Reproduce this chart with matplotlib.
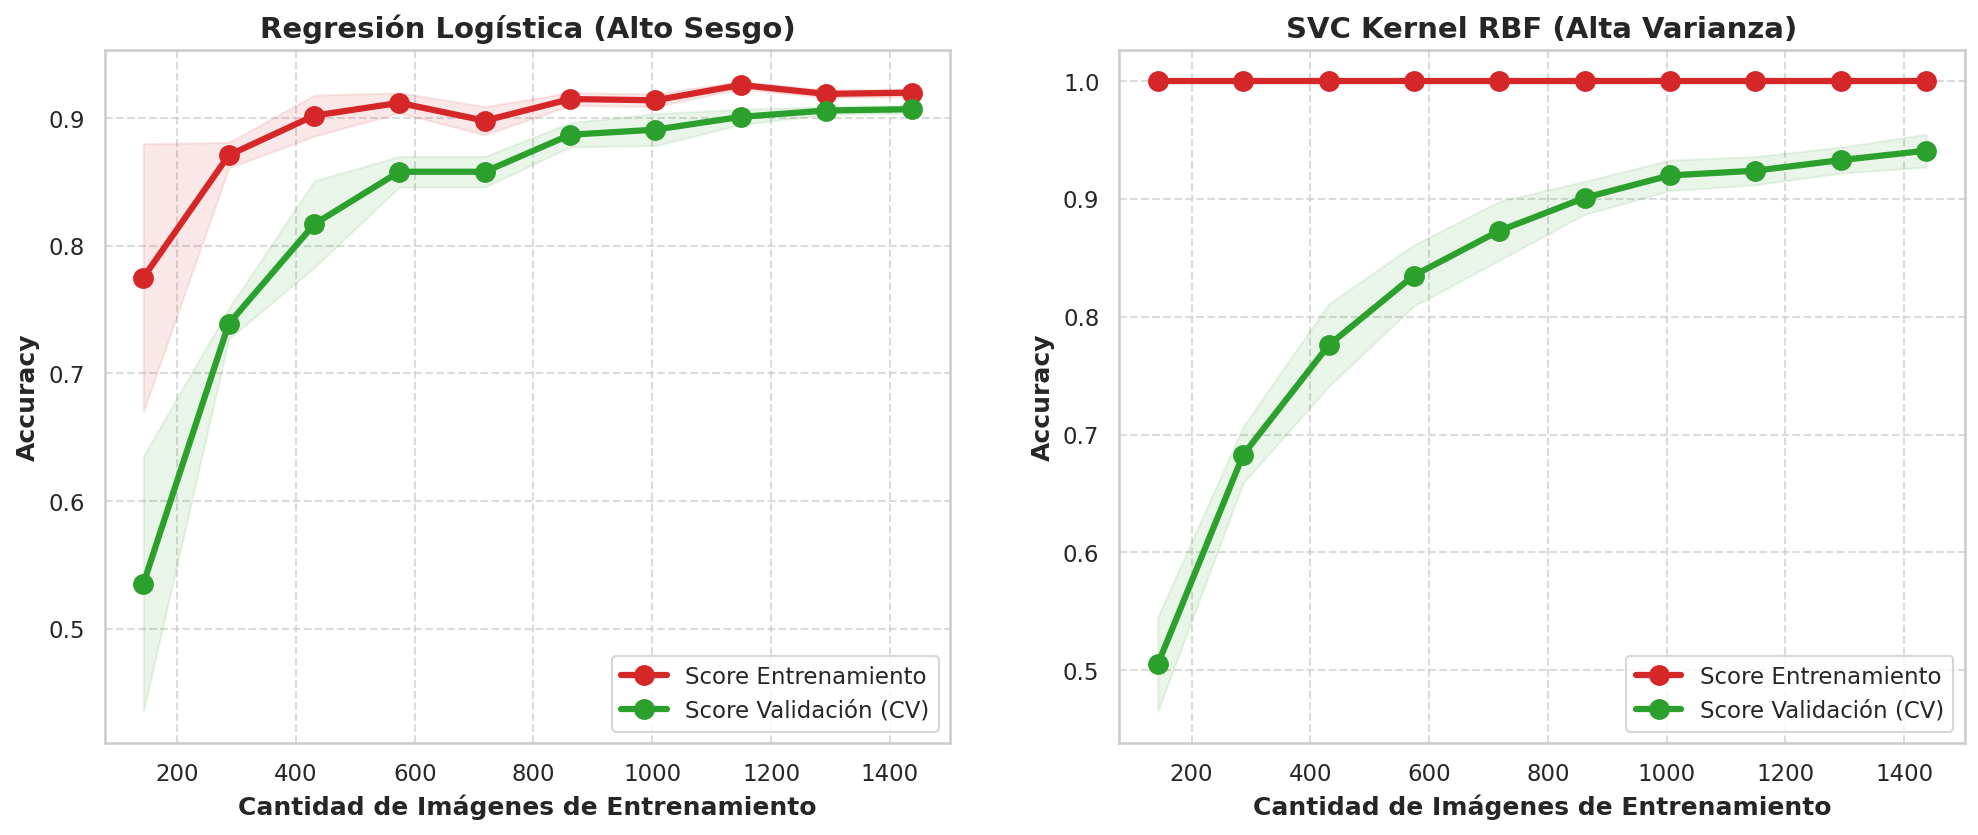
import matplotlib
matplotlib.use("Agg")
import matplotlib.pyplot as plt
import numpy as np
import seaborn as sns

sns.set_theme(style="whitegrid")

# tamaños de entrenamiento
train_sizes = [143, 287, 431, 574, 718, 862, 1005, 1149, 1293, 1437]

# Regresión logística
lr_train_mean = [0.775, 0.871, 0.902, 0.912, 0.898, 0.915, 0.914, 0.926, 0.919, 0.920]
lr_train_std = [0.105, 0.010, 0.016, 0.008, 0.011, 0.005, 0.005, 0.003, 0.003, 0.003]
lr_val_mean = [0.535, 0.739, 0.817, 0.858, 0.858, 0.887, 0.891, 0.901, 0.906, 0.907]
lr_val_std = [0.100, 0.012, 0.034, 0.012, 0.012, 0.0095, 0.0125, 0.006, 0.003, 0.003]

# SVC RBF
svc_train_mean = [1.0, 1.0, 1.0, 1.0, 1.0, 1.0, 1.0, 1.0, 1.0, 1.0]
svc_train_std = [0.0, 0.0, 0.0, 0.0, 0.0, 0.0, 0.0, 0.0, 0.0, 0.0]
svc_val_mean = [0.505, 0.683, 0.776, 0.835, 0.873, 0.901, 0.920, 0.924, 0.933, 0.941]
svc_val_std = [0.040, 0.024, 0.035, 0.026, 0.025, 0.014, 0.013, 0.012, 0.011, 0.014]

titles = ["Regresión Logística (Alto Sesgo)", "SVC Kernel RBF (Alta Varianza)"]


def plot_curve(ax, title, tr_m, tr_s, va_m, va_s):
    x = np.array(train_sizes)
    tr_m, tr_s = np.array(tr_m), np.array(tr_s)
    va_m, va_s = np.array(va_m), np.array(va_s)
    ax.fill_between(x, tr_m - tr_s, tr_m + tr_s, alpha=0.1, color="#d62728")
    ax.fill_between(x, va_m - va_s, va_m + va_s, alpha=0.1, color="#2ca02c")
    ax.plot(x, tr_m, "o-", color="#d62728", lw=3, ms=9, label="Score Entrenamiento")
    ax.plot(x, va_m, "o-", color="#2ca02c", lw=3, ms=9, label="Score Validación (CV)")
    ax.set_title(title, fontsize=14, fontweight="bold")
    ax.set_xlabel("Cantidad de Imágenes de Entrenamiento", fontsize=12, fontweight="bold")
    ax.set_ylabel("Accuracy", fontsize=12, fontweight="bold")
    ax.legend(loc="lower right", fontsize=11)
    ax.grid(True, linestyle="--", alpha=0.7)


fig, axes = plt.subplots(1, 2, figsize=(13.19, 5.57))
plot_curve(axes[0], titles[0], lr_train_mean, lr_train_std, lr_val_mean, lr_val_std)
plot_curve(axes[1], titles[1], svc_train_mean, svc_train_std, svc_val_mean, svc_val_std)
plt.subplots_adjust(left=0.053, right=0.993, top=0.94, bottom=0.11, wspace=0.2)
plt.savefig("out.png", dpi=150)
